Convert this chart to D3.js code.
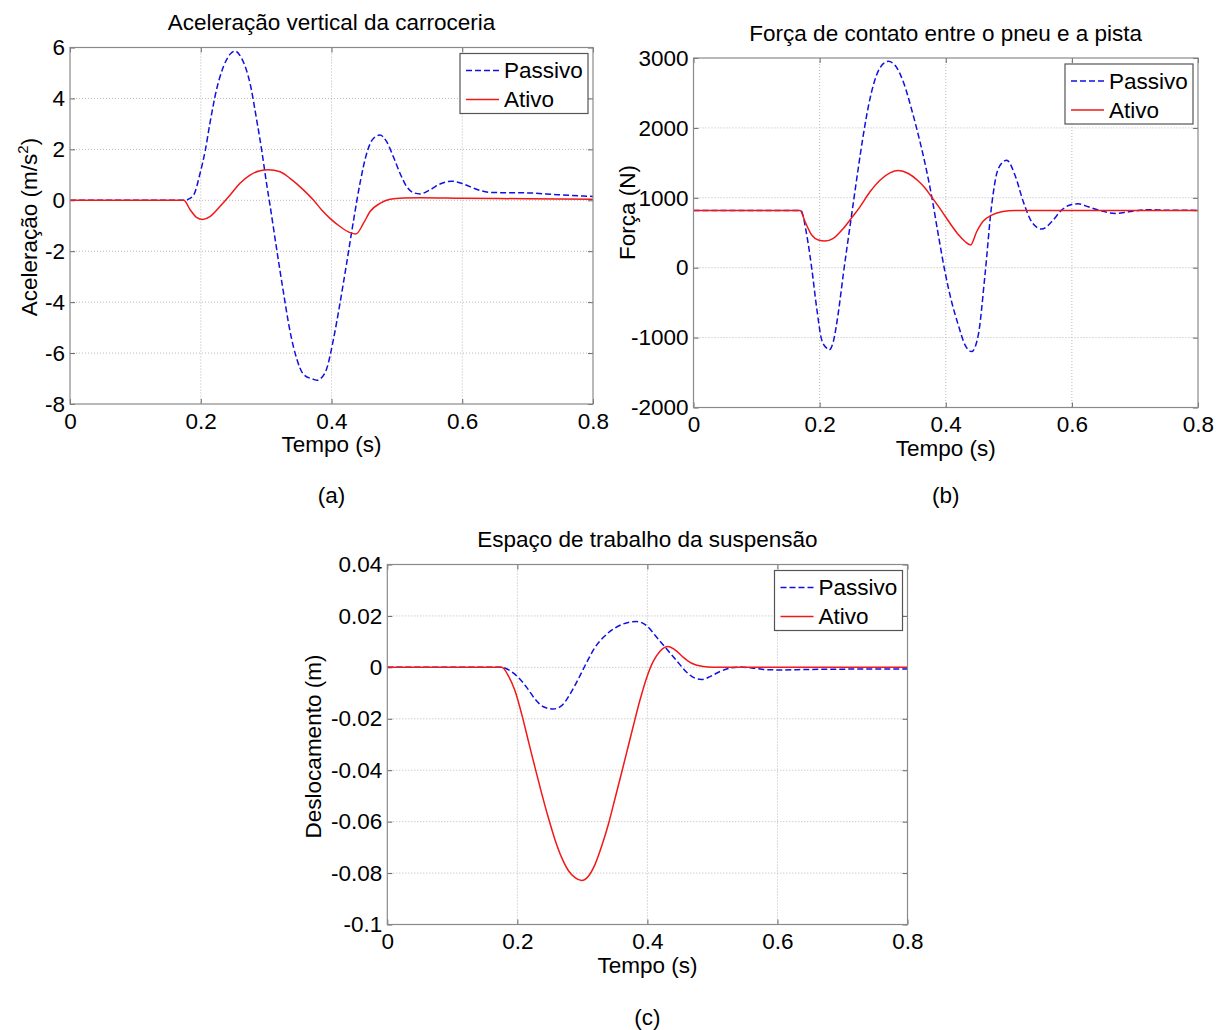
<!DOCTYPE html>
<html>
<head>
<meta charset="utf-8">
<script src="https://cdnjs.cloudflare.com/ajax/libs/d3/7.8.5/d3.min.js"></script>
<style>
body { margin: 0; background: #fff; }
svg { display: block; }
</style>
</head>
<body>
<div class="figure"></div>
<script>
//Three response plots (passive vs active suspension)

//Shared time axis ticks
var timeTicks = [0, 0.2, 0.4, 0.6, 0.8];
var timeTickLabels = ["0", "0.2", "0.4", "0.6", "0.8"];
var seriesNames = ["Passivo", "Ativo"];

//(a) body vertical acceleration
var accTicks = [-8, -6, -4, -2, 0, 2, 4, 6];
var accTickLabels = ["-8", "-6", "-4", "-2", "0", "2", "4", "6"];
var accPassivoT = [0, 0.175, 0.18, 0.189, 0.199, 0.207, 0.214, 0.224, 0.2346, 0.245, 0.2524, 0.2626, 0.2754, 0.2856, 0.2932, 0.3009, 0.306, 0.316, 0.3264, 0.3366, 0.3468, 0.357, 0.3723, 0.378, 0.3824, 0.3926, 0.4028, 0.413, 0.4232, 0.4334, 0.4436, 0.4538, 0.464, 0.4742, 0.4844, 0.4946, 0.5048, 0.515, 0.5252, 0.5354, 0.5507, 0.566, 0.5838, 0.6017, 0.622, 0.6425, 0.66, 0.70, 0.745, 0.8];
var accPassivoV = [0, 0, 0.03, 0.2, 1.06, 1.97, 3.02, 4.33, 5.24, 5.74, 5.86, 5.57, 4.59, 3.15, 1.97, 0.62, -0.2, -1.9, -3.6, -5.15, -6.22, -6.83, -7.03, -7.07, -7.02, -6.62, -5.48, -4.04, -2.47, -0.84, 0.67, 1.84, 2.43, 2.56, 2.3, 1.71, 1.06, 0.54, 0.3, 0.25, 0.41, 0.64, 0.75, 0.64, 0.43, 0.31, 0.3, 0.29, 0.22, 0.15];
var accAtivoT = [0, 0.174, 0.184, 0.194, 0.203, 0.214, 0.229, 0.245, 0.26, 0.2754, 0.2907, 0.3035, 0.3213, 0.3366, 0.357, 0.3723, 0.385, 0.3977, 0.413, 0.4283, 0.4375, 0.449, 0.459, 0.4742, 0.4895, 0.51, 0.5354, 0.6, 0.7, 0.8];
var accAtivoV = [0, 0, -0.38, -0.68, -0.75, -0.64, -0.25, 0.21, 0.67, 0.99, 1.16, 1.2, 1.12, 0.86, 0.41, 0.01, -0.38, -0.71, -1.03, -1.27, -1.32, -0.9, -0.44, -0.12, 0.04, 0.09, 0.1, 0.08, 0.06, 0.04];

//(b) tyre-road contact force
var forceTicks = [-2000, -1000, 0, 1000, 2000, 3000];
var forceTickLabels = ["-2000", "-1000", "0", "1000", "2000", "3000"];
var forcePassivoT = [0, 0.17, 0.1796, 0.1875, 0.1954, 0.2033, 0.2113, 0.215, 0.2217, 0.2297, 0.2376, 0.2508, 0.2614, 0.2693, 0.2799, 0.2905, 0.301, 0.309, 0.3196, 0.3328, 0.346, 0.3592, 0.3698, 0.3777, 0.3882, 0.3988, 0.4094, 0.4199, 0.4305, 0.441, 0.4516, 0.4622, 0.4728, 0.4834, 0.4966, 0.5098, 0.523, 0.5362, 0.552, 0.5679, 0.5837, 0.5996, 0.6102, 0.626, 0.6419, 0.669, 0.69, 0.72, 0.75, 0.8];
var forcePassivoV = [820, 820, 467, -10, -581, -1033, -1152, -1176, -1057, -640, -90, 760, 1430, 1900, 2420, 2760, 2919, 2952, 2895, 2657, 2260, 1800, 1380, 1020, 470, -60, -490, -819, -1105, -1200, -962, -105, 895, 1419, 1538, 1324, 943, 657, 552, 657, 824, 905, 915, 871, 824, 777, 800, 830, 822, 820];
var forceAtivoT = [0, 0.169, 0.177, 0.1875, 0.198, 0.2085, 0.2217, 0.2376, 0.2508, 0.264, 0.2799, 0.2957, 0.3116, 0.3248, 0.3406, 0.3565, 0.3671, 0.3777, 0.3882, 0.3988, 0.4094, 0.4199, 0.4305, 0.4395, 0.449, 0.4596, 0.4728, 0.4886, 0.5098, 0.8];
var forceAtivoV = [820, 820, 657, 467, 395, 381, 419, 562, 714, 871, 1086, 1252, 1357, 1390, 1348, 1240, 1140, 1010, 880, 740, 600, 475, 375, 324, 514, 667, 752, 800, 819, 820];

//(c) suspension working space
var dispTicks = [-0.1, -0.08, -0.06, -0.04, -0.02, 0, 0.02, 0.04];
var dispTickLabels = ["-0.1", "-0.08", "-0.06", "-0.04", "-0.02", "0", "0.02", "0.04"];
var dispPassivoT = [0, 0.176, 0.1887, 0.2015, 0.2143, 0.2272, 0.24, 0.2553, 0.2682, 0.281, 0.2938, 0.3066, 0.3195, 0.3323, 0.3477, 0.363, 0.3835, 0.3989, 0.4143, 0.4297, 0.445, 0.4604, 0.4732, 0.4835, 0.4963, 0.5117, 0.5271, 0.5425, 0.563, 0.5835, 0.604, 0.65, 0.8];
var dispPassivoV = [0, 0, -0.0013, -0.0039, -0.0078, -0.0123, -0.0153, -0.0162, -0.0149, -0.0104, -0.0045, 0.0019, 0.0078, 0.0117, 0.0149, 0.0169, 0.0178, 0.0162, 0.0117, 0.0071, 0.0026, -0.0019, -0.0042, -0.0047, -0.0036, -0.0016, -0.0003, 0.0001, -0.0003, -0.0009, -0.001, -0.0008, -0.0006];
var dispAtivoT = [0, 0.176, 0.186, 0.1964, 0.2067, 0.2169, 0.2272, 0.2374, 0.2477, 0.2579, 0.2682, 0.2784, 0.2887, 0.299, 0.3092, 0.3195, 0.3297, 0.34, 0.3502, 0.3605, 0.3707, 0.3784, 0.3886, 0.3989, 0.4092, 0.4194, 0.4322, 0.4425, 0.4553, 0.4681, 0.4835, 0.5014, 0.8];
var dispAtivoV = [0, 0, -0.0032, -0.0091, -0.0182, -0.0286, -0.039, -0.049, -0.0585, -0.067, -0.074, -0.079, -0.0818, -0.0829, -0.0812, -0.0766, -0.0695, -0.061, -0.051, -0.0408, -0.0305, -0.0227, -0.0127, -0.004, 0.0024, 0.0063, 0.0081, 0.0068, 0.0039, 0.0016, 0.0004, 0, 0];

var fontFamily = "'Liberation Sans', Arial, Helvetica, sans-serif";
var fontSize = 22.5;

var svg = d3.select(".figure")
            .append("svg")
            .attr("width", 1226)
            .attr("height", 1030)
            .style("background", "#fff");

//Draw one axes box with grid, curves, legend and labels
function drawPanel(p) {
    var xScale = d3.scaleLinear().domain([0, 0.8]).range([p.left, p.right]);
    var yScale = d3.scaleLinear().domain([p.yTicks[0], p.yTicks[p.yTicks.length - 1]]).range([p.bottom, p.top]);
    var cx = (p.left + p.right) / 2;

    var g = svg.append("g");

    //dotted grid
    g.selectAll(null)
        .data(timeTicks.slice(1, -1))
        .enter()
        .append("line")
        .attr("x1", d => xScale(d)).attr("x2", d => xScale(d))
        .attr("y1", p.top).attr("y2", p.bottom)
        .attr("stroke", "#b8b8b8")
        .attr("stroke-dasharray", "1,2");

    g.selectAll(null)
        .data(p.yTicks.slice(1, -1))
        .enter()
        .append("line")
        .attr("x1", p.left).attr("x2", p.right)
        .attr("y1", d => yScale(d)).attr("y2", d => yScale(d))
        .attr("stroke", "#b8b8b8")
        .attr("stroke-dasharray", "1,2");

    //axes with inward ticks
    var bottomAxis = d3.axisBottom(xScale).tickValues(timeTicks)
        .tickFormat((d, i) => timeTickLabels[i]).tickSizeInner(-5).tickSizeOuter(0).tickPadding(9);
    var leftAxis = d3.axisLeft(yScale).tickValues(p.yTicks)
        .tickFormat((d, i) => p.yLabels[i]).tickSizeInner(-5).tickSizeOuter(0).tickPadding(5);
    var topAxis = d3.axisTop(xScale).tickValues(timeTicks).tickFormat("").tickSizeInner(-5).tickSizeOuter(0);
    var rightAxis = d3.axisRight(yScale).tickValues(p.yTicks).tickFormat("").tickSizeInner(-5).tickSizeOuter(0);

    var axes = [
        [bottomAxis, `translate(0, ${p.bottom})`],
        [leftAxis, `translate(${p.left}, 0)`],
        [topAxis, `translate(0, ${p.top})`],
        [rightAxis, `translate(${p.right}, 0)`]
    ];
    axes.forEach(function(a) {
        var ag = g.append("g")
            .attr("transform", a[1])
            .call(a[0]);
        ag.attr("font-family", fontFamily).attr("font-size", fontSize);
        ag.select(".domain").remove();
        ag.selectAll(".tick line").attr("stroke", "#666");
        ag.selectAll(".tick text").attr("fill", "#000");
    });

    //curves
    var lineGen = d3.line()
        .x(d => xScale(d[0]))
        .y(d => yScale(d[1]))
        .curve(d3.curveMonotoneX);

    g.append("path")
        .datum(d3.zip(p.passivoT, p.passivoV))
        .attr("d", lineGen)
        .attr("fill", "none")
        .attr("stroke", "#1010e0")
        .attr("stroke-width", 1.5)
        .attr("stroke-dasharray", "6,3");

    g.append("path")
        .datum(d3.zip(p.ativoT, p.ativoV))
        .attr("d", lineGen)
        .attr("fill", "none")
        .attr("stroke", "#f01818")
        .attr("stroke-width", 1.5);

    //axes box
    g.append("rect")
        .attr("x", p.left).attr("y", p.top)
        .attr("width", p.right - p.left).attr("height", p.bottom - p.top)
        .attr("fill", "none")
        .attr("stroke", "#8a8a8a")
        .attr("stroke-width", 1.2);

    //legend
    var lx = p.right - 5 - 128;
    var ly = p.top + 6;
    var legend = g.append("g").attr("transform", `translate(${lx}, ${ly})`);
    legend.append("rect")
        .attr("width", 128).attr("height", 60)
        .attr("fill", "#fff")
        .attr("stroke", "#555")
        .attr("stroke-width", 1.2);
    var legendStyles = [
        {color: "#1010e0", dash: "6,3", y: 17},
        {color: "#f01818", dash: null, y: 46}
    ];
    legendStyles.forEach(function(s, i) {
        legend.append("line")
            .attr("x1", 6).attr("x2", 39)
            .attr("y1", s.y).attr("y2", s.y)
            .attr("stroke", s.color)
            .attr("stroke-width", 1.5)
            .attr("stroke-dasharray", s.dash);
        legend.append("text")
            .attr("x", 44).attr("y", s.y)
            .attr("dy", "0.35em")
            .attr("font-family", fontFamily)
            .attr("font-size", fontSize)
            .text(seriesNames[i]);
    });

    //title and axis labels
    g.append("text")
        .attr("x", cx).attr("y", p.top - 17.5)
        .attr("text-anchor", "middle")
        .attr("font-family", fontFamily).attr("font-size", fontSize)
        .text(p.title);

    g.append("text")
        .attr("x", cx).attr("y", p.bottom + 48)
        .attr("text-anchor", "middle")
        .attr("font-family", fontFamily).attr("font-size", fontSize)
        .text("Tempo (s)");

    g.append("text")
        .attr("x", cx).attr("y", p.letterY)
        .attr("text-anchor", "middle")
        .attr("font-family", fontFamily).attr("font-size", fontSize)
        .text(p.letter);

    var yl = g.append("text")
        .attr("transform", `translate(${p.ylabelX}, ${p.ylabelY}) rotate(-90)`)
        .attr("dy", "0.35em")
        .attr("text-anchor", "middle")
        .attr("font-family", fontFamily).attr("font-size", fontSize);
    yl.append("tspan").text(p.ylabel);
    if (p.ylabelSup) {
        yl.append("tspan").attr("font-size", 15).attr("dy", -9).text(p.ylabelSup);
        yl.append("tspan").attr("dy", 9).text(")");
    }
}

drawPanel({
    left: 70, right: 593, top: 47.5, bottom: 404,
    yTicks: accTicks, yLabels: accTickLabels,
    passivoT: accPassivoT, passivoV: accPassivoV,
    ativoT: accAtivoT, ativoV: accAtivoV,
    title: "Aceleração vertical da carroceria",
    ylabel: "Aceleração (m/s", ylabelSup: "2",
    ylabelX: 29, ylabelY: 227,
    letter: "(a)", letterY: 503
});

drawPanel({
    left: 693.5, right: 1198, top: 58, bottom: 407.5,
    yTicks: forceTicks, yLabels: forceTickLabels,
    passivoT: forcePassivoT, passivoV: forcePassivoV,
    ativoT: forceAtivoT, ativoV: forceAtivoV,
    title: "Força de contato entre o pneu e a pista",
    ylabel: "Força (N)",
    ylabelX: 627, ylabelY: 212.5,
    letter: "(b)", letterY: 503
});

drawPanel({
    left: 387.3, right: 907.5, top: 564.5, bottom: 924.5,
    yTicks: dispTicks, yLabels: dispTickLabels,
    passivoT: dispPassivoT, passivoV: dispPassivoV,
    ativoT: dispAtivoT, ativoV: dispAtivoV,
    title: "Espaço de trabalho da suspensão",
    ylabel: "Deslocamento (m)",
    ylabelX: 313, ylabelY: 746.5,
    letter: "(c)", letterY: 1025
});
</script>
</body>
</html>
